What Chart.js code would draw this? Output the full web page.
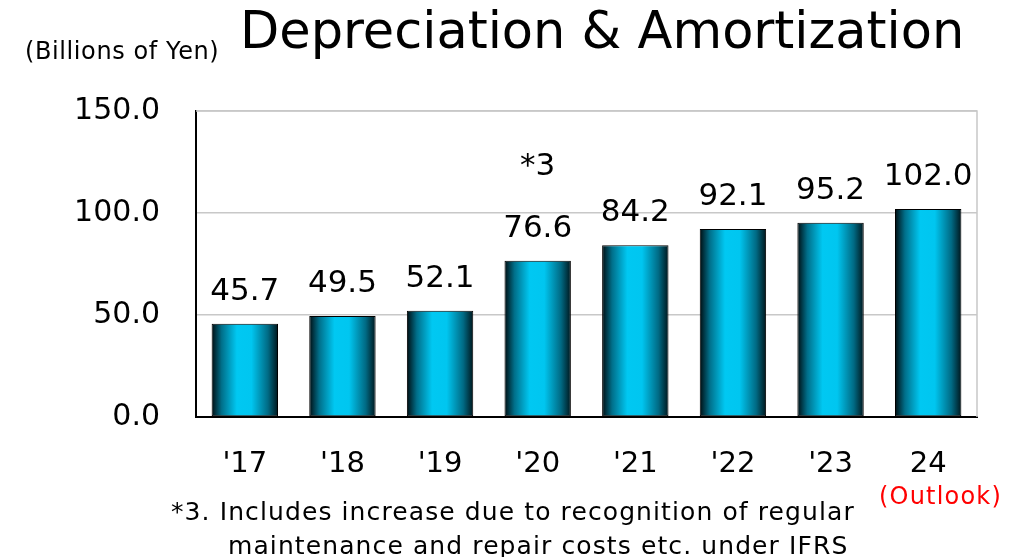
<!DOCTYPE html>
<html>
<head>
<meta charset="utf-8">
<script src="https://cdn.jsdelivr.net/npm/chart.js@4.4.1/dist/chart.umd.min.js"></script>
<style>
  html, body { margin: 0; padding: 0; background: #fff; }
  #wrap { position: relative; width: 1025px; height: 557px; font-family: "DejaVu Sans", sans-serif; color: #000; }
  #chart { position: absolute; left: 0; top: 0; }
  .txt { position: absolute; white-space: nowrap; line-height: 1; }
  #title { left: 240px; top: 5px; font-size: 51px; }
  #unit { left: 25px; top: 39px; font-size: 24px; letter-spacing: 0.6px; }
  #outlook { left: 879px; top: 484px; font-size: 24px; letter-spacing: 1.2px; color: #ff0000; }
  #note1 { left: 171px; top: 499px; font-size: 25px; letter-spacing: 1.1px; }
  #note2 { left: 228px; top: 533px; font-size: 25px; letter-spacing: 1.1px; }
</style>
</head>
<body>
<div id="wrap">
  <canvas id="chart" width="1025" height="557"></canvas>
  <div class="txt" id="title">Depreciation &amp; Amortization</div>
  <div class="txt" id="unit">(Billions of Yen)</div>
  <div class="txt" id="outlook">(Outlook)</div>
  <div class="txt" id="note1">*3. Includes increase due to recognition of regular</div>
  <div class="txt" id="note2">maintenance and repair costs etc. under IFRS</div>
</div>
<script>
const years = ["'17", "'18", "'19", "'20", "'21", "'22", "'23", "24"];
const amounts = [45.7, 49.5, 52.1, 76.6, 84.2, 92.1, 95.2, 102.0];
const notes = ["", "", "", "*3", "", "", "", ""];
const yTicks = [0, 50, 100, 150];

const BAR_PCT = 0.68;

function barGradient(context) {
  const chart = context.chart;
  const xs = chart.scales.x;
  if (!chart.chartArea || !xs) return "#00c8f0";
  const cx = xs.getPixelForValue(context.dataIndex);
  const w = xs.width / years.length * BAR_PCT;
  const g = chart.ctx.createLinearGradient(cx - w / 2, 0, cx + w / 2, 0);
  g.addColorStop(0, "#000c10");
  g.addColorStop(0.15, "#006f8a");
  g.addColorStop(0.38, "#00c8f2");
  g.addColorStop(0.6, "#00c6f0");
  g.addColorStop(0.85, "#006a84");
  g.addColorStop(1, "#00161c");
  return g;
}

// value labels above bars plus the *3 note
const labelPlugin = {
  id: "barLabels",
  afterDatasetsDraw(chart) {
    const c = chart.ctx;
    const meta = chart.getDatasetMeta(0);
    c.save();
    c.font = "31px 'DejaVu Sans'";
    c.fillStyle = "#000";
    c.textAlign = "center";
    c.textBaseline = "alphabetic";
    meta.data.forEach((bar, i) => {
      c.fillText(amounts[i].toFixed(1), bar.x, bar.y - 24);
      if (notes[i]) c.fillText(notes[i], bar.x, bar.y - 86);
    });
    c.restore();
  }
};

// gray frame on top and right
const framePlugin = {
  id: "frame",
  beforeDatasetsDraw(chart) {
    const { ctx: c, chartArea: a } = chart;
    c.save();
    c.strokeStyle = "#c8c8c8";
    c.lineWidth = 1.5;
    c.beginPath();
    c.moveTo(a.left, a.top);
    c.lineTo(a.right, a.top);
    c.lineTo(a.right, a.bottom);
    c.stroke();
    c.restore();
  }
};

new Chart(document.getElementById("chart"), {
  type: "bar",
  data: {
    labels: years,
    datasets: [{
      data: amounts,
      backgroundColor: barGradient,
      borderColor: "#000",
      borderWidth: 1,
      borderSkipped: false,
      barPercentage: BAR_PCT,
      categoryPercentage: 1
    }]
  },
  options: {
    responsive: false,
    animation: false,
    layout: { padding: { left: 0, right: 48, top: 111, bottom: 0 } },
    plugins: { legend: { display: false }, tooltip: { enabled: false } },
    scales: {
      x: {
        grid: { display: false, drawTicks: false },
        border: { color: "#000", width: 2 },
        ticks: { color: "#000", font: { family: "DejaVu Sans", size: 29 }, padding: 30 },
        afterFit: s => { s.height = 140; }
      },
      y: {
        min: 0,
        max: 150,
        afterBuildTicks: s => { s.ticks = yTicks.map(v => ({ value: v })); },
        grid: { color: "#c8c8c8", lineWidth: 1.5, drawTicks: false },
        border: { color: "#000", width: 2 },
        ticks: {
          color: "#000",
          font: { family: "DejaVu Sans", size: 30 },
          padding: 36,
          callback: v => v.toFixed(1)
        },
        afterFit: s => { s.width = 196; }
      }
    }
  },
  plugins: [framePlugin, labelPlugin]
});
</script>
</body>
</html>
